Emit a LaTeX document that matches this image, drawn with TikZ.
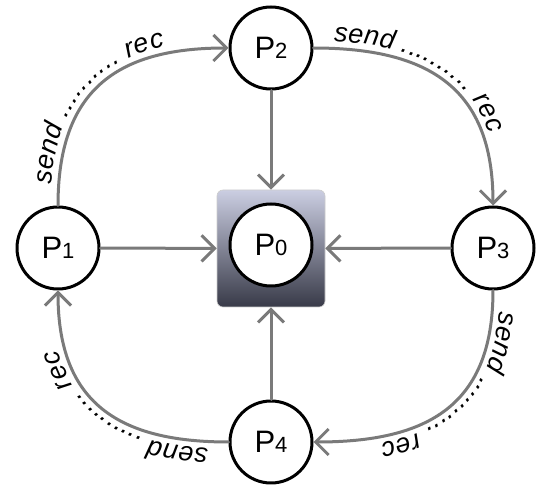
\documentclass[tikz,border=0pt]{standalone}
\usepackage{fontspec}
\setmainfont{Liberation Sans}
\usetikzlibrary{arrows.meta}
\usetikzlibrary{decorations.text}
\definecolor{flowgray}{RGB}{122,122,122}
\definecolor{boxtop}{RGB}{203,206,226}
\definecolor{boxbottom}{RGB}{56,58,72}
\newcommand{\procname}[1]{P{\fontsize{22}{22}\selectfont #1}}
\newcommand{\lblfont}{\fontsize{27}{30}\selectfont\itshape}

\begin{document}
\begin{tikzpicture}[line cap=round,line join=round,>={Straight Barb[length=13pt,width=26pt]},x=1pt,y=1pt,
  proc/.style={circle,draw=black,line width=3pt,fill=white,minimum size=82pt,inner sep=0pt,font=\fontsize{31}{31}\selectfont},
  flow/.style={draw=flowgray,line width=3pt},
  msg/.style={decorate,decoration={text along path,raise=7pt,text align={left indent=20pt},text={#1}}}]
\useasboundingbox (0,0) rectangle (536,485);
\node[rounded corners=6pt,minimum width=108pt,minimum height=117pt,top color=boxtop,bottom color=boxbottom,draw=gray!40,line width=0.6pt] (sq) at (271,236.5) {};
\node[proc] (p0) at (271,240) {\procname{0}};
\node[proc] (p1) at (58,237) {\procname{1}};
\node[proc] (p2) at (271,437) {\procname{2}};
\node[proc] (p3) at (493,237) {\procname{3}};
\node[proc] (p4) at (271,43) {\procname{4}};
\draw[flow,->] (p1) -- (sq);
\draw[flow,->] (p2) -- (sq);
\draw[flow,->] (p3) -- (sq);
\draw[flow,->] (p4) -- (sq);
\draw[flow,->] (p1) to[out=90,in=180,looseness=1.25] (p2);
\draw[flow,->] (p2) to[out=0,in=90,looseness=1.25] (p3);
\draw[flow,->] (p3) to[out=-90,in=0,looseness=1.25] (p4);
\draw[flow,->] (p4) to[out=180,in=-90,looseness=1.25] (p1);
\path[msg={|\lblfont|send .......... rec}] (p1) to[out=90,in=180,looseness=1.25] (p2);
\path[msg={|\lblfont|send .......... rec}] (p2) to[out=0,in=90,looseness=1.25] (p3);
\path[msg={|\lblfont|send .......... rec}] (p3) to[out=-90,in=0,looseness=1.25] (p4);
\path[msg={|\lblfont|send .......... rec}] (p4) to[out=180,in=-90,looseness=1.25] (p1);
\end{tikzpicture}
\end{document}
